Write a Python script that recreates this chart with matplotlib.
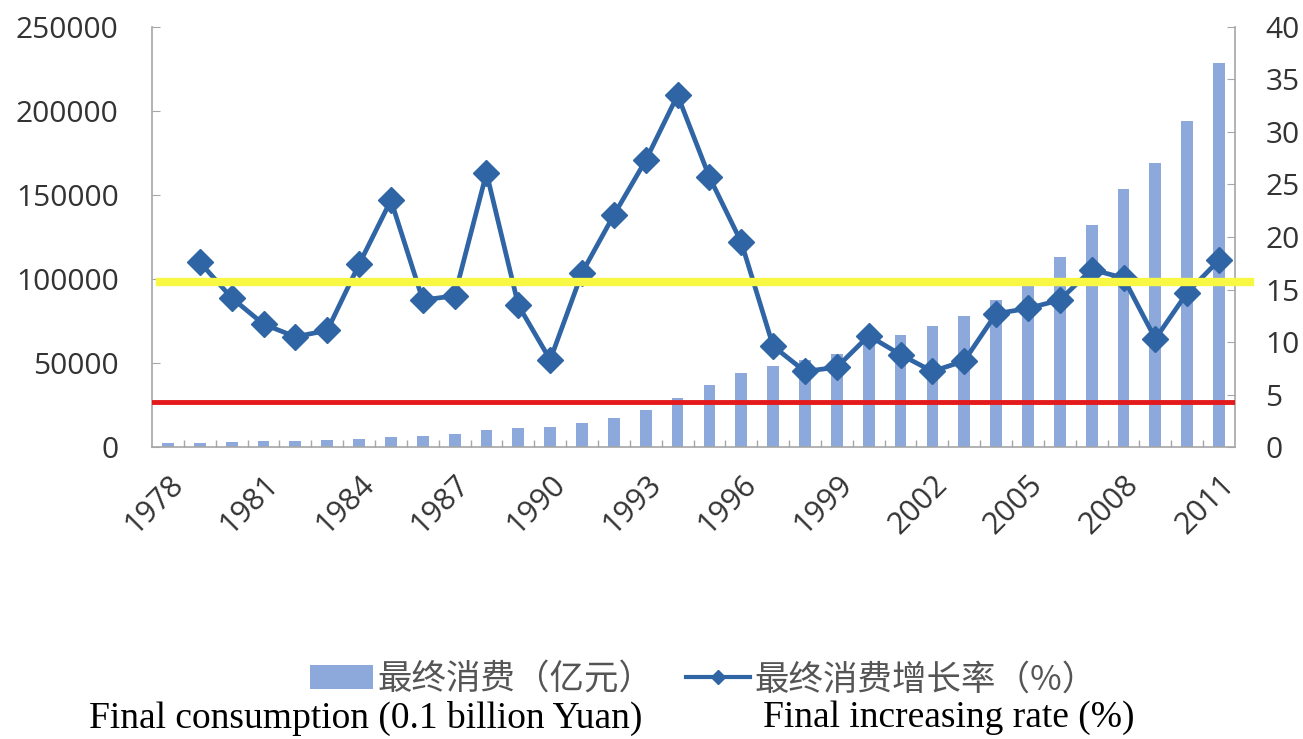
import matplotlib
matplotlib.use("Agg")
import matplotlib.pyplot as plt
from matplotlib.patches import Patch
from matplotlib.lines import Line2D
from matplotlib.ticker import FixedLocator, NullFormatter

# Final consumption (100 million yuan) and its annual growth rate (%)
years = list(range(1978, 2012))
consumption = [2240, 2630, 3010, 3360, 3720, 4130, 4850, 5990, 6820, 7800,
               9840, 11160, 12090, 14090, 17200, 21900, 29240, 36750, 43920, 48140,
               51590, 55640, 61520, 66930, 71820, 77690, 87550, 99360, 113100, 132230,
               153420, 169270, 194120, 228560]
growth_years = list(range(1979, 2012))
growth_rate = [17.6, 14.2, 11.7, 10.5, 11.1, 17.4, 23.5, 14.0, 14.4, 26.1,
               13.5, 8.3, 16.6, 22.1, 27.3, 33.5, 25.7, 19.5, 9.6, 7.2,
               7.6, 10.6, 8.8, 7.2, 8.2, 12.7, 13.2, 14.0, 16.9, 16.1,
               10.3, 14.7, 17.8]
yellow_level = 15.7   # reference level on the rate axis
red_level = 4.3       # reference level on the rate axis

left_ticks = [0, 50000, 100000, 150000, 200000, 250000]
right_ticks = [0, 5, 10, 15, 20, 25, 30, 35, 40]
label_years = list(range(1978, 2012, 3))

bar_color = "#8DA8DA"
line_color = "#2F64A5"
axis_color = "#A6A6A6"
text_color = "#333333"

fig = plt.figure(figsize=(13.03, 7.39), dpi=100)
ax = fig.add_axes([0.1167, 0.3951, 0.8311, 0.5684])
ax2 = ax.twinx()

x_bar = [y - years[0] for y in years]
x_line = [y - years[0] for y in growth_years]

ax.bar(x_bar, consumption, width=0.37, color=bar_color, zorder=2)
ax.set_xlim(-0.5, len(years) - 0.5)
ax.set_ylim(0, 250000)
ax.set_yticks(left_ticks)
ax.set_yticklabels([str(v) for v in left_ticks])

ax2.plot(x_line, growth_rate, color=line_color, lw=3.4, marker="D",
         markersize=13, markerfacecolor=line_color, markeredgecolor=line_color,
         zorder=3)
ax2.set_ylim(0, 40)
ax2.set_yticks(right_ticks)
ax2.set_yticklabels([str(v) for v in right_ticks])

ax2.axhline(yellow_level, xmin=0.007, xmax=1.014, color="#F8F844", lw=6,
            zorder=5, clip_on=False)
ax2.axhline(red_level, xmin=0.0, xmax=1.0, color="#E3191C", lw=3.5, zorder=5)

# x axis: labels every third year, small ticks between categories
ax.set_xticks([y - years[0] for y in label_years])
ax.set_xticklabels([str(y) for y in label_years], rotation=45, ha="right",
                   va="top", rotation_mode="anchor")
ax.xaxis.set_minor_locator(FixedLocator([i + 0.5 for i in range(len(years) - 1)]))
ax.xaxis.set_minor_formatter(NullFormatter())
ax.tick_params(axis="x", which="major", length=0, pad=16)
ax.tick_params(axis="x", which="minor", direction="in", length=5,
               color=axis_color, width=1)

font = "Open Sans"
for lab in ax.get_xticklabels():
    lab.set_fontfamily(font)
    lab.set_fontsize(22)
    lab.set_color(text_color)
for lab in ax.get_yticklabels() + ax2.get_yticklabels():
    lab.set_fontfamily(font)
    lab.set_fontsize(21.5)
    lab.set_color(text_color)

ax.spines["top"].set_visible(False)
ax.spines["right"].set_visible(False)
ax.spines["left"].set_color(axis_color)
ax.spines["bottom"].set_color(axis_color)
ax2.spines["top"].set_visible(False)
ax2.spines["left"].set_visible(False)
ax2.spines["bottom"].set_visible(False)
ax2.spines["right"].set_color(axis_color)
for s in ("left", "bottom"):
    ax.spines[s].set_linewidth(1.2)
ax2.spines["right"].set_linewidth(1.2)

ax.tick_params(axis="y", direction="in", length=6, color=axis_color, pad=24)
ax2.tick_params(axis="y", which="major", direction="in", length=6,
                color=axis_color, pad=22)

# Legend
handles = [Patch(facecolor=bar_color, edgecolor="none"),
           Line2D([], [], color=line_color, lw=3, marker="D", markersize=7)]
labels = ["最终消费（亿元）", "最终消费增长率（%）"]
leg = fig.legend(handles, labels, loc="center", bbox_to_anchor=(0.5395, 0.080),
                 ncol=2, frameon=False, handlelength=1.85, handletextpad=0.12,
                 columnspacing=0.95,
                 prop={"family": ["Noto Sans CJK SC", "DejaVu Sans"], "size": 24.8})
for t in leg.get_texts():
    t.set_color("#555555")

fig.text(366 / 1303, 1 - 718 / 739, "Final consumption (0.1 billion Yuan)",
         family="Liberation Serif", fontsize=27, ha="center", va="center",
         color="black")
fig.text(949 / 1303, 1 - 718 / 739, "Final increasing rate (%)",
         family="Liberation Serif", fontsize=27, ha="center", va="center",
         color="black")

fig.savefig("out.png", dpi=100, facecolor="white")
